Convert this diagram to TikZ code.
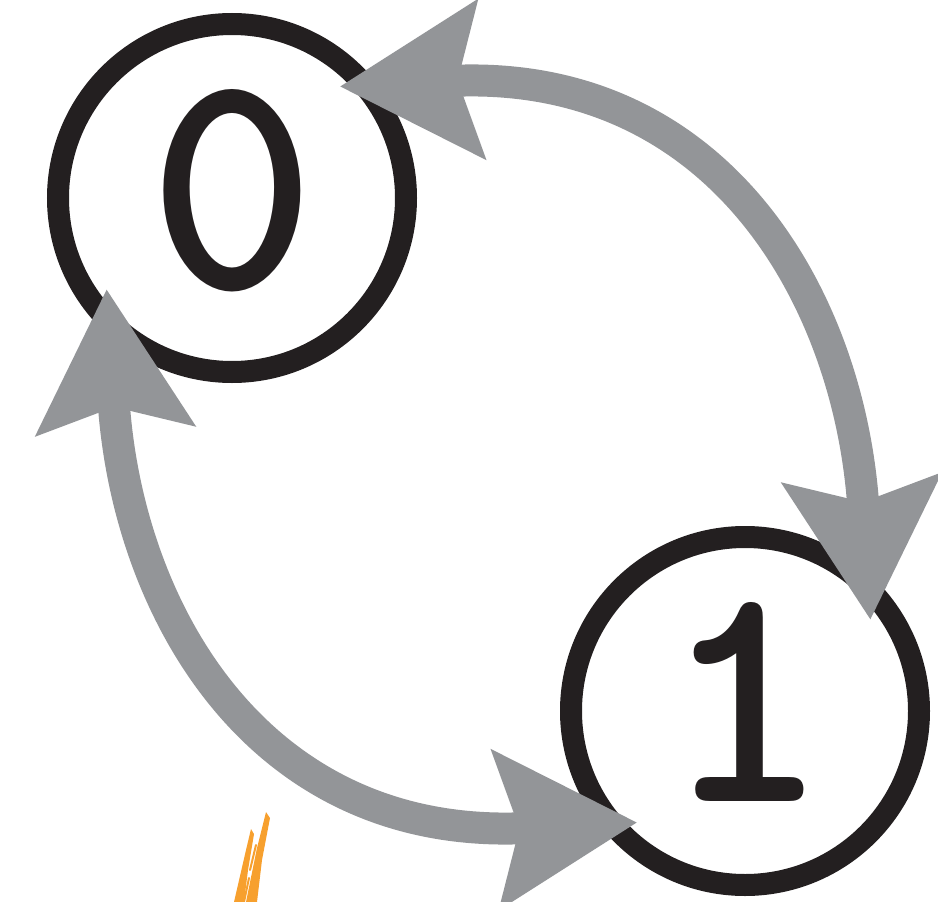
\documentclass[tikz,border=0pt]{standalone}
\usepackage{xcolor}
\usepackage{tikz}
\usetikzlibrary{arrows.meta, positioning}

\definecolor{ringink}{HTML}{231F20}
\definecolor{flowgray}{HTML}{939598}
\definecolor{brushorange}{HTML}{F7A02E}

\begin{document}
\begin{tikzpicture}[
    x=1pt, y=-1pt,
    bitstate/.style={circle, draw=ringink, line width=22pt, minimum size=348pt, inner sep=0pt, outer sep=-19pt, text=ringink, text depth=18pt, font=\fontsize{320}{320}\selectfont\ttfamily\bfseries},
    flow/.style={{Stealth[length=140pt, width=155pt, inset=22pt]}-{Stealth[length=140pt, width=155pt, inset=22pt]}, draw=flowgray, line width=32pt},
    brushline/.style={draw=brushorange, line width=2pt, line cap=round}
]
    \useasboundingbox (0,0) rectangle (938,902);

    % States
    \node[bitstate] (zero) at (232,198) {0};
    \node[bitstate] (one) at (745,711) {1};

    % Transitions
    \draw[flow] (zero.46) .. controls +(380,-19) and +(-20,-320) .. (one.36);
    \draw[flow] (one.226) .. controls +(-380,19) and +(20,320) .. (zero.216);

    % Brush mark
    \fill[brushorange] (234,902) -- (246,850) -- (251,829) -- (254,834) -- (248,870) -- (244,902) -- cycle;
    \fill[brushorange] (246,902) -- (257,848) -- (266,812) -- (270,818) -- (262,860) -- (257,902) -- cycle;
    \foreach \xa/\ya/\xb/\yb in {244/902/249/878, 250/870/256/845, 263/838/268/820}
      \draw[brushline] (\xa,\ya) -- (\xb,\yb);
\end{tikzpicture}
\end{document}
